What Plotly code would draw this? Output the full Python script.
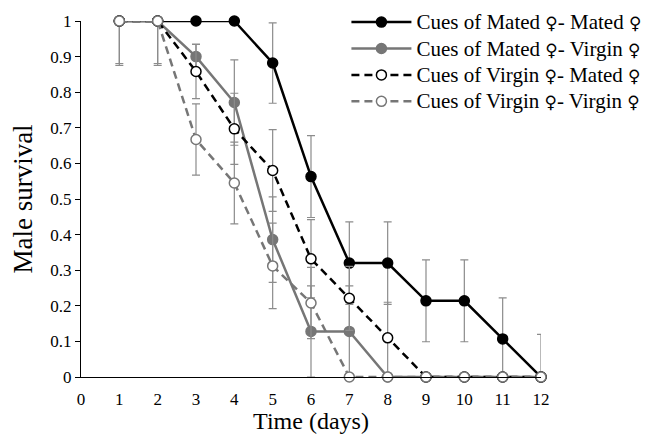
import plotly.graph_objects as go

days = [1, 2, 3, 4, 5, 6, 7, 8, 9, 10, 11, 12]

mated_mated = [1, 1, 1, 1, 0.882, 0.563, 0.32, 0.32, 0.214, 0.214, 0.107, 0]
mated_virgin = [1, 1, 0.9, 0.771, 0.386, 0.128, 0.128, 0, 0, 0, 0, 0]
virgin_mated = [1, 1, 0.858, 0.697, 0.58, 0.332, 0.221, 0.11, 0, 0, 0, 0]
virgin_virgin = [1, 1, 0.667, 0.545, 0.312, 0.208, 0, 0, 0, 0, 0, 0]

se_mated_mated = [0.12, 0.12, 0, 0, 0.113, 0.115, 0.116, 0.116, 0.115, 0.115, 0.115, 0.12]
se_mated_virgin = [0.125, 0.125, 0.035, 0.12, 0.12, 0.128, 0.128, 0, 0, 0, 0, 0]
se_virgin_mated = [0, 0, 0.076, 0.1, 0.115, 0.11, 0.09, 0.1, 0, 0, 0, 0]
se_virgin_virgin = [0, 0, 0.1, 0.115, 0.12, 0.1, 0, 0, 0, 0, 0, 0]

FEM = '<span style="font-family:DejaVu Sans;font-size:17px">\u2640</span>'
labels = [
    ("Mated", "Mated"),
    ("Mated", "Virgin"),
    ("Virgin", "Mated"),
    ("Virgin", "Virgin"),
]
names = ['<span style="font-size:21px">Cues of %s ' % a + FEM + "- %s " % b + FEM + "</span>"
         for a, b in labels]

y_ticks = [0, 0.1, 0.2, 0.3, 0.4, 0.5, 0.6, 0.7, 0.8, 0.9, 1]
y_tick_labels = ["0", "0.1", "0.2", "0.3", "0.4", "0.5", "0.6", "0.7", "0.8", "0.9", "1"]
x_ticks = list(range(0, 13))

FONT = "Liberation Serif, Times New Roman, serif"
GRAY = "#767676"
ERR = "#8c8c8c"

series = [
    (mated_mated, se_mated_mated, names[0], "black", "solid", "black", "black"),
    (mated_virgin, se_mated_virgin, names[1], GRAY, "solid", GRAY, GRAY),
    (virgin_mated, se_virgin_mated, names[2], "black", "8px,5px", "white", "black"),
    (virgin_virgin, se_virgin_virgin, names[3], GRAY, "8px,5px", "white", GRAY),
]

fig = go.Figure()
for vals, se, name, lc, dash, mfill, mline in series:
    up = [s if v == 0 else min(s, 1 - v) for v, s in zip(vals, se)]
    dn = [s if v == 1 else min(s, v) for v, s in zip(vals, se)]
    fig.add_trace(go.Scatter(
        x=days, y=vals, name=name, mode="lines+markers",
        line=dict(color=lc, width=2.5, dash=dash),
        marker=dict(size=10, color=mfill, line=dict(color=mline, width=1.5)),
        error_y=dict(type="data", symmetric=False, array=up, arrayminus=dn,
                     color=ERR, thickness=1.2, width=4),
        cliponaxis=False,
    ))

# page body adds an 8px offset; margins compensate
fig.update_layout(
    width=656, height=436,
    margin=dict(l=73, r=123, t=13, b=67, autoexpand=False),
    paper_bgcolor="white", plot_bgcolor="white",
    font=dict(family=FONT, size=17, color="black"),
    showlegend=True,
    legend=dict(x=0.577, y=1.048, xanchor="left", yanchor="top",
                font=dict(family=FONT, size=18, color="black"),
                bgcolor="rgba(0,0,0,0)", tracegroupgap=0, itemwidth=60),
    xaxis=dict(range=[0, 12], tickvals=x_ticks, ticks="outside", ticklen=6,
               tickcolor="rgba(0,0,0,0)", showgrid=False,
               zeroline=False, showline=True, linecolor="black", linewidth=1.2,
               automargin=False,
               title=dict(text="Time (days)", font=dict(family=FONT, size=24), standoff=2),
               tickfont=dict(family=FONT, size=17)),
    yaxis=dict(range=[0, 1], tickvals=y_ticks, ticktext=y_tick_labels,
               ticks="outside", ticklen=5, tickcolor="black", showgrid=False,
               zeroline=False, showline=True, linecolor="black", linewidth=1.2,
               automargin=False,
               title=dict(text="Male survival", font=dict(family=FONT, size=27), standoff=9),
               tickfont=dict(family=FONT, size=17)),
)

fig.write_html("out.html")
